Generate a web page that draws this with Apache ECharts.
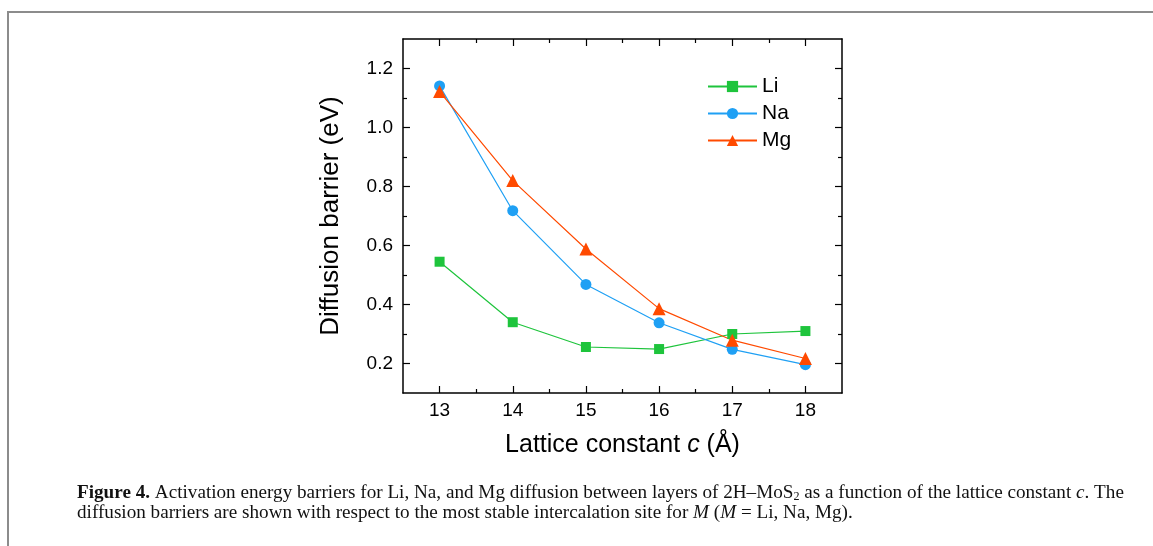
<!DOCTYPE html>
<html>
<head>
<meta charset="utf-8">
<script src="https://cdn.jsdelivr.net/npm/echarts@6.0.0/dist/echarts.min.js"></script>
<style>
  html, body { margin: 0; padding: 0; background: #fff; }
  #chart { width: 1153px; height: 546px; }
</style>
</head>
<body>
<div id="chart"></div>
<script>
// lattice constant c (Å)
var latticeC = [13, 14, 15, 16, 17, 18];
// diffusion barriers (eV)
var liBarrier = [0.545, 0.340, 0.256, 0.249, 0.300, 0.310];
var naBarrier = [1.141, 0.718, 0.468, 0.338, 0.248, 0.196];
var mgBarrier = [1.122, 0.820, 0.588, 0.386, 0.279, 0.217];

var xMajor = [13, 14, 15, 16, 17, 18];
var xMinor = [13.5, 14.5, 15.5, 16.5, 17.5];
var yMajor = [0.2, 0.4, 0.6, 0.8, 1.0, 1.2];
var yMinor = [0.3, 0.5, 0.7, 0.9, 1.1];

var axisFont = 'Liberation Sans, Arial, sans-serif';

function pairs(ys) {
  return latticeC.map(function (c, i) { return [c, ys[i]]; });
}

function xAx(pos, ticks, len, showLine, showLabel) {
  return {
    type: 'value', position: pos, min: 12.5, max: 18.5,
    axisLine: { show: showLine, onZero: false, lineStyle: { color: '#000', width: 1.5 } },
    axisTick: { show: true, inside: true, length: len, customValues: ticks, lineStyle: { color: '#000', width: 1.2 } },
    axisLabel: showLabel ? { show: true, customValues: ticks, margin: 8, fontSize: 19, color: '#000', fontFamily: axisFont } : { show: false },
    splitLine: { show: false }
  };
}
function yAx(pos, ticks, len, showLine, showLabel) {
  return {
    type: 'value', position: pos, min: 0.1, max: 1.3,
    axisLine: { show: showLine, onZero: false, lineStyle: { color: '#000', width: 1.5 } },
    axisTick: { show: true, inside: true, length: len, customValues: ticks, lineStyle: { color: '#000', width: 1.2 } },
    axisLabel: showLabel ? {
      show: true, customValues: ticks, margin: 10, fontSize: 19, color: '#000', fontFamily: axisFont,
      formatter: function (v) { return v.toFixed(1); }
    } : { show: false },
    splitLine: { show: false }
  };
}

var xMain = xAx('bottom', xMajor, 7, true, true);
xMain.name = 'Lattice constant {i|c} (Å)';
xMain.nameLocation = 'middle';
xMain.nameGap = 40;
xMain.nameTextStyle = { fontSize: 25, color: '#000', fontFamily: axisFont, rich: { i: { fontSize: 25, fontStyle: 'italic', fontFamily: axisFont, color: '#000' } } };

var yMain = yAx('left', yMajor, 7, true, true);
yMain.name = 'Diffusion barrier (eV)';
yMain.nameLocation = 'middle';
yMain.nameGap = 59;
yMain.nameTextStyle = { fontSize: 26, color: '#000', fontFamily: axisFont };

function line(name, ys, color, symbol, size) {
  return {
    name: name, type: 'line', data: pairs(ys), xAxisIndex: 0, yAxisIndex: 0,
    symbol: symbol, symbolSize: size, showSymbol: true,
    lineStyle: { color: color, width: 1.2 },
    itemStyle: { color: color, borderWidth: 0 }
  };
}

var caption =
  '{b|Figure 4.} Activation energy barriers for Li, Na, and Mg diffusion between layers of 2H–MoS{s|2} as a function of the lattice constant {i|c}. The\n' +
  'diffusion barriers are shown with respect to the most stable intercalation site for {i|M} ({i|M} = Li, Na, Mg).';

var serif = 'Liberation Serif, Times New Roman, serif';

var option = {
  animation: false,
  backgroundColor: '#fff',
  grid: { left: 403, right: 311, top: 39, bottom: 153 },
  xAxis: [
    xMain,
    xAx('bottom', xMinor, 4, false, false),
    xAx('top', xMajor, 7, true, false),
    xAx('top', xMinor, 4, false, false)
  ],
  yAxis: [
    yMain,
    yAx('left', yMinor, 4, false, false),
    yAx('right', yMajor, 7, true, false),
    yAx('right', yMinor, 4, false, false)
  ],
  legend: {
    orient: 'vertical', left: 707, top: 76, padding: 0,
    itemWidth: 49, itemHeight: 14, itemGap: 6,
    textStyle: { fontSize: 21, color: '#000', fontFamily: axisFont, padding: [0, 0, 0, 0] },
    data: ['Li', 'Na', 'Mg']
  },
  series: [
    line('Li', liBarrier, '#1ec43c', 'rect', 10),
    line('Na', naBarrier, '#1fa0f4', 'circle', 11),
    line('Mg', mgBarrier, '#ff4a00', 'triangle', 13)
  ],
  graphic: [
    {
      type: 'polyline', silent: true,
      shape: { points: [[8, 546], [8, 12], [1153, 12]] },
      style: { stroke: '#8c8c8c', lineWidth: 2, fill: null }
    },
    {
      type: 'text', x: 77, y: 483, originX: 0, scaleX: 1.008, silent: true,
      style: {
        text: caption, fontSize: 19, lineHeight: 20, fill: '#111', fontFamily: serif,
        verticalAlign: 'top', align: 'left',
        rich: {
          b: { fontWeight: 'bold', fontSize: 19, lineHeight: 20, fontFamily: serif },
          i: { fontStyle: 'italic', fontSize: 19, lineHeight: 20, fontFamily: serif },
          s: { fontSize: 12, lineHeight: 20, verticalAlign: 'bottom', fontFamily: serif }
        }
      }
    }
  ]
};

echarts.init(document.getElementById('chart')).setOption(option);
</script>
</body>
</html>
